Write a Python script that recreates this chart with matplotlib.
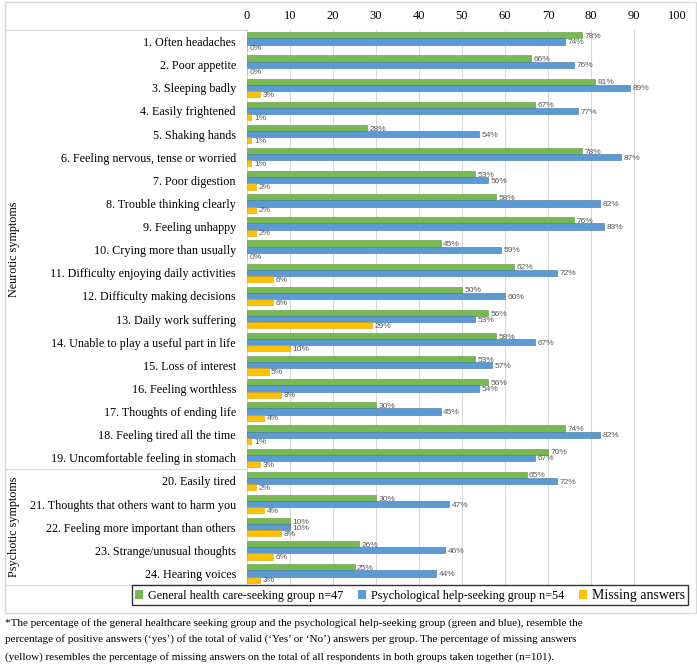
import numpy as np
import matplotlib
matplotlib.use("Agg")
import matplotlib.pyplot as plt
from matplotlib.patches import Rectangle, Patch
from matplotlib.lines import Line2D
from matplotlib.transforms import blended_transform_factory

symptoms = [
    "1. Often headaches", "2. Poor appetite", "3. Sleeping badly",
    "4. Easily frightened", "5. Shaking hands",
    "6. Feeling nervous, tense or worried", "7. Poor digestion",
    "8. Trouble thinking clearly", "9. Feeling unhappy",
    "10. Crying more than usually", "11. Difficulty enjoying daily activities",
    "12. Difficulty making decisions", "13. Daily work suffering",
    "14. Unable to play a useful part in life", "15. Loss of interest",
    "16. Feeling worthless", "17. Thoughts of ending life",
    "18. Feeling tired all the time", "19. Uncomfortable feeling in stomach",
    "20. Easily tired", "21. Thoughts that others want to harm you",
    "22. Feeling more important than others", "23. Strange/unusual thoughts",
    "24. Hearing voices",
]
general = [78, 66, 81, 67, 28, 78, 53, 58, 76, 45, 62, 50,
           56, 58, 53, 56, 30, 74, 70, 65, 30, 10, 26, 25]
psychological = [74, 76, 89, 77, 54, 87, 56, 82, 83, 59, 72, 60,
                 53, 67, 57, 54, 45, 82, 67, 72, 47, 10, 46, 44]
missing = [0, 0, 3, 1, 1, 1, 2, 2, 2, 0, 6, 6,
           29, 10, 5, 8, 4, 1, 3, 2, 4, 8, 6, 3]
groups = ["Neurotic symptoms", "Psychotic symptoms"]
group_sizes = [19, 5]
series_names = ["General health care-seeking group n=47",
                "Psychological help-seeking group n=54",
                "Missing answers"]
footnote = [
    "*The percentage of the general healthcare seeking group and the psychological help-seeking group (green and blue), resemble the",
    "percentage of positive answers (\u2018yes\u2019) of the total of valid (\u2018Yes\u2019 or \u2018No\u2019) answers per group. The percentage of missing answers",
    "(yellow) resembles the percentage of missing answers on the total of all respondents in both groups taken together (n=101).",
]

W, H = 697, 669
serif = "Liberation Serif"
colors = ["#76B852", "#5B9BD5", "#FFC000"]
edges = ["#5E9A40", "#41719C", "#D9A300"]
grid_c = "#D9D9D9"

fig = plt.figure(figsize=(W / 100, H / 100), dpi=100)
ax = fig.add_axes([247 / W, 1 - 585 / H, 430 / W, 555 / H])

y = np.arange(len(symptoms))
h = 0.267
for k, vals in enumerate([general, psychological, missing]):
    pos = y + (k - 1) * h
    ax.barh(pos, vals, height=h, color=colors[k], edgecolor=edges[k],
            linewidth=0.4, zorder=3)
    for p, v in zip(pos, vals):
        ax.text(v + 0.6, p + 0.05, f"{v}%", va="center", ha="left",
                fontsize=6, color="#595959", family="Liberation Sans", zorder=4)

ax.set_xlim(0, 100)
ax.set_ylim(len(symptoms) - 0.5, -0.5)
ax.set_xticks(np.arange(0, 101, 10))
ax.xaxis.tick_top()
ax.tick_params(axis="x", length=0, pad=6, labelsize=9)
for t in ax.get_xticklabels():
    t.set_family(serif)
ax.set_yticks(y)
ax.set_yticklabels(symptoms, family=serif, fontsize=8.7)
ax.tick_params(axis="y", length=0, pad=8)
ax.grid(axis="x", color=grid_c, linewidth=0.8, zorder=0)
for s in ax.spines.values():
    s.set_visible(False)

# label table lines and group names
tr = blended_transform_factory(fig.transFigure, ax.transData)
bounds = np.cumsum([0] + group_sizes) - 0.5
for b in bounds:
    ax.add_line(Line2D([5 / W, 247 / W], [b, b], transform=tr, color=grid_c,
                       linewidth=0.9, clip_on=False))
for g, lo, hi in zip(groups, bounds[:-1], bounds[1:]):
    ax.text(14 / W, (lo + hi) / 2, g, transform=tr, rotation=90, ha="center",
            va="center", family=serif, fontsize=8.7)

# outer frame
fig.add_artist(Rectangle((5 / W, 1 - 613 / H), 691 / W, 611.5 / H,
                         transform=fig.transFigure, fill=False,
                         edgecolor=grid_c, linewidth=1))

handles = [Patch(facecolor=c) for c in colors]
leg = fig.legend(handles, series_names, loc="center",
                 bbox_to_anchor=(410 / W, 1 - 595 / H), ncol=3,
                 frameon=True, fancybox=False, edgecolor="black",
                 handlelength=0.7, handleheight=0.7, handletextpad=0.4,
                 columnspacing=1.2, borderpad=0.25, borderaxespad=0,
                 prop={"family": serif, "size": 8.7})
leg.get_frame().set_linewidth(1)
leg.get_texts()[2].set_fontsize(10)

for line, yy in zip(footnote, [623, 639, 657]):
    fig.text(5 / W, 1 - yy / H, line, ha="left", va="center",
             family=serif, fontsize=8)

fig.savefig("out.png", dpi=100)
